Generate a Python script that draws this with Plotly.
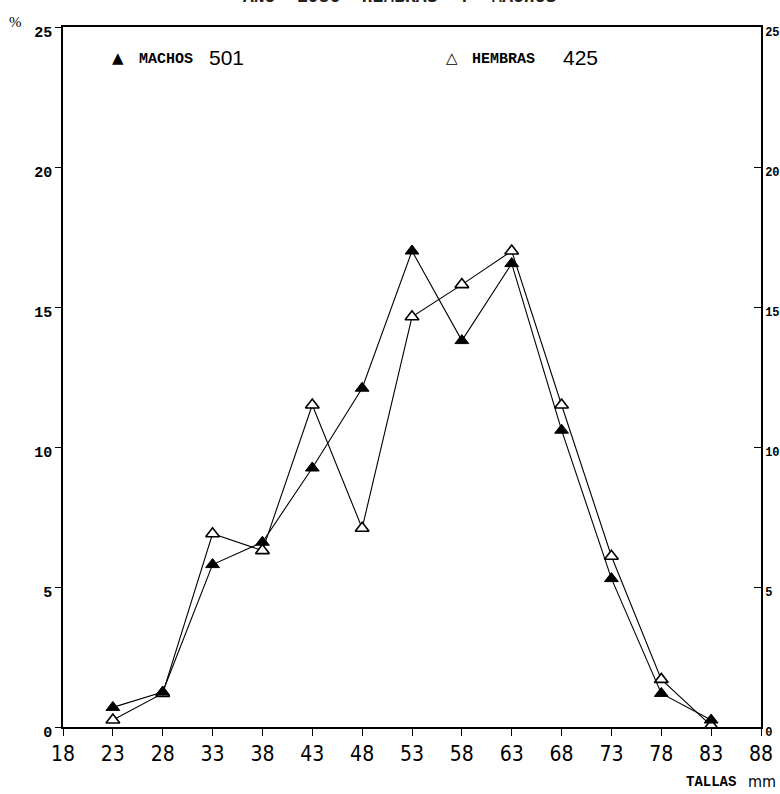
import plotly.graph_objects as go

# Data
tallas = [23, 28, 33, 38, 43, 48, 53, 58, 63, 68, 73, 78, 83]
machos = [0.7, 1.25, 5.8, 6.6, 9.25, 12.1, 17.0, 13.8, 16.55, 10.6, 5.3, 1.2, 0.25]
hembras = [0.25, 1.2, 6.9, 6.3, 11.5, 7.1, 14.65, 15.8, 17.0, 11.5, 6.1, 1.7, 0.05]
x_ticks = [18, 23, 28, 33, 38, 43, 48, 53, 58, 63, 68, 73, 78, 83, 88]
y_ticks = [0, 5, 10, 15, 20, 25]
n_machos = 501
n_hembras = 425

W, H = 780, 794
ML, MR, MT, MB = 63, 19, 27, 67
PW, PH = W - ML - MR, H - MT - MB


def px(x):
    return (x - ML) / PW


def py(y):
    return (H - MB - y) / PH


MONO_B = "Liberation Mono"
NARROW = "Liberation Sans Narrow, DejaVu Sans Condensed, Arial Narrow, sans-serif"

fig = go.Figure()
fig.add_trace(go.Scatter(
    x=tallas, y=hembras, mode="lines+markers", name="HEMBRAS",
    line=dict(color="black", width=1.1),
    marker=dict(symbol="triangle-up", size=12, color="white",
                line=dict(color="black", width=1.6)),
    hoverinfo="skip", showlegend=False,
))
fig.add_trace(go.Scatter(
    x=tallas, y=machos, mode="lines+markers", name="MACHOS",
    line=dict(color="black", width=1.1),
    marker=dict(symbol="triangle-up", size=12, color="black",
                line=dict(color="black", width=1)),
    hoverinfo="skip", showlegend=False,
))
# invisible trace to drive the right-hand axis
fig.add_trace(go.Scatter(
    x=tallas, y=machos, yaxis="y2", mode="markers",
    marker=dict(opacity=0), hoverinfo="skip", showlegend=False,
))

fig.update_layout(
    width=W, height=H,
    margin=dict(l=ML, r=MR, t=MT, b=MB, pad=0, autoexpand=False),
    paper_bgcolor="white", plot_bgcolor="white",
    xaxis=dict(
        range=[18, 88], tickvals=x_ticks, ticktext=[str(v) for v in x_ticks],
        showgrid=False, zeroline=False, showline=True, mirror=True,
        linecolor="black", linewidth=1.5, automargin=False,
        ticks="outside", ticklen=7, tickwidth=1.2, tickcolor="black",
        tickfont=dict(family=NARROW, size=21, color="black"),
    ),
    yaxis=dict(
        range=[0, 25], tickvals=y_ticks, ticktext=[str(v) for v in y_ticks],
        showgrid=False, zeroline=False, showline=True, automargin=False,
        linecolor="black", linewidth=1.5,
        ticks="outside", ticklen=6, tickwidth=1.2, tickcolor="black",
        tickfont=dict(family=MONO_B, size=15, color="black", weight="bold"),
        ticklabelshift=5, ticklabelstandoff=0,
    ),
    yaxis2=dict(
        range=[0, 25], tickvals=y_ticks, ticktext=[str(v) for v in y_ticks],
        overlaying="y", side="right", automargin=False,
        showgrid=False, zeroline=False, showline=True,
        linecolor="black", linewidth=1.5,
        ticks="inside", ticklen=7, tickwidth=1.2, tickcolor="black",
        tickfont=dict(family=MONO_B, size=12, color="black", weight="bold"),
        ticklabelshift=5, ticklabelstandoff=0,
    ),
)

ann = []


def add(text, x, y, font, xanchor="left", yanchor="middle"):
    ann.append(dict(text=text, x=px(x), y=py(y), xref="paper", yref="paper",
                    xanchor=xanchor, yanchor=yanchor, showarrow=False, font=font))


add("AÑO  1986  HEMBRAS  Y  MACHOS", 399, 9,
    dict(family=MONO_B, size=18, color="#222", weight="bold"), xanchor="center", yanchor="bottom")
add("%", 15, 22, dict(family="Liberation Serif", size=15, color="black"), xanchor="center")
add("▲", 118, 58, dict(family="DejaVu Sans", size=15, color="black"), xanchor="center")
add("MACHOS", 137, 59, dict(family=MONO_B, size=15, color="black", weight="bold"))
add(str(n_machos), 207, 58, dict(family="Liberation Sans", size=21, color="black"))
add("△", 452, 58, dict(family="DejaVu Sans", size=15, color="black"), xanchor="center")
add("HEMBRAS", 470, 59, dict(family=MONO_B, size=15, color="black", weight="bold"))
add(str(n_hembras), 561, 58, dict(family="Liberation Sans", size=21, color="black"))
add("TALLAS", 684, 782, dict(family=MONO_B, size=14, color="black", weight="bold"))
add("mm", 746, 781, dict(family=NARROW, size=16, color="black"))

fig.update_layout(annotations=ann)
fig.write_html(
    "out.html",
    config={"displayModeBar": False},
    post_script="document.body.style.margin='0';document.body.style.overflow='hidden';",
)
